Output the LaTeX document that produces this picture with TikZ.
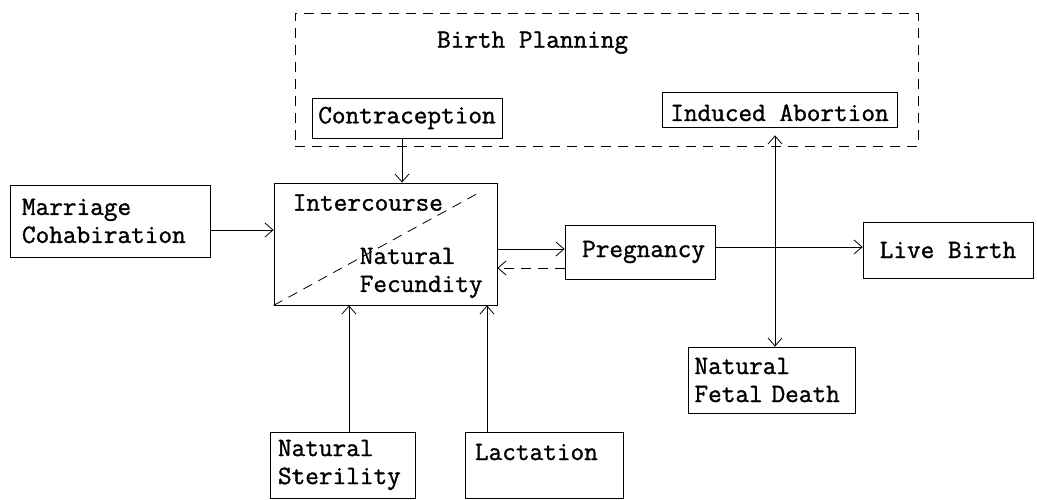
\documentclass[tikz,border=0pt]{standalone}
\usepackage{fontspec}
\setmonofont{Latin Modern Mono}[FakeBold=1.2]
\usepackage{tikz}
\usetikzlibrary{arrows.meta,positioning,calc}
\newcommand{\typefont}{\fontsize{26.5}{28}\selectfont\ttfamily}

\begin{document}
\begin{tikzpicture}[x=1pt,y=-1pt,
    box/.style={draw,line width=0.8pt,inner sep=0pt,font=\typefont},
    txt/.style={inner sep=0pt,font=\typefont,align=left},
    arr/.style={line width=0.8pt,-{Straight Barb[length=8pt,width=14pt]}},
    dash line/.style={line width=0.8pt,dash pattern=on 10pt off 7pt}]
  \useasboundingbox (0,0) rectangle (1037,500);

  % birth planning region
  \node[draw,dash line,minimum width=623pt,minimum height=133pt,inner sep=0pt] (plan) at (606.5,79.5) {};
  \node[txt] (plantitle) at ([xshift=238pt,yshift=-30pt]plan.north west) {Birth Planning};
  \node[box,minimum width=190pt,minimum height=40pt] (contra) at (407,118) {Contraception};
  \node[box,minimum width=235pt,minimum height=35pt,text height=29pt,text depth=6pt] (abort) at (779.5,109.5) {Induced Abortion};

  % main chain
  \node[box,minimum width=200pt,minimum height=72pt,text width=176pt,align=left] (marriage) at (110,221) {Marriage\\Cohabiration};
  \node[box,minimum width=223pt,minimum height=122pt] (core) at (385.5,244) {};
  \node[txt,anchor=west] (inter) at ([xshift=19pt,yshift=-20pt]core.north west) {Intercourse};
  \node[txt,anchor=west] (fecund) at ([xshift=86pt,yshift=32.5pt]core.south west) {Natural\\Fecundity};
  \draw[dash line,shorten >=22pt] (core.south west) -- (core.north east);
  \node[box,minimum width=150pt,minimum height=54pt,text width=130pt,align=right] (preg) at (640,252) {Pregnancy};
  \node[box,minimum width=170pt,minimum height=56pt] (live) at (948,250) {Live Birth};
  \node[box,minimum width=167pt,minimum height=66pt,text width=154pt,align=left] (fetal) at (771.5,380) {Natural\\Fetal Death};

  % bottom factors
  \node[box,minimum width=145pt,minimum height=66pt,text width=129pt,align=left] (steril) at (342.5,465) {Natural\\Sterility};
  \node[box,minimum width=158pt,minimum height=66pt,text width=138pt,align=left,text height=28pt,text depth=38pt] (lact) at (544,465) {Lactation};

  % connectors
  \draw[arr] ([yshift=-9pt]marriage.east) coordinate (m1) -- (m1 -| core.west);
  \draw[arr] ([xshift=-5pt]contra.south) coordinate (c1) -- (c1 |- core.north);
  \draw[arr] ([yshift=-5pt]core.east) coordinate (r1) -- (r1 -| preg.west);
  \draw[arr,dash pattern=on 10pt off 7pt] ([yshift=-16pt]preg.west) coordinate (r2) -- (r2 -| core.east);
  \draw[arr] ([yshift=5pt]preg.east) coordinate (p1) -- (p1 -| live.west);
  \draw[line width=0.8pt,{Straight Barb[length=8pt,width=14pt]}-{Straight Barb[length=8pt,width=14pt]}]
    ([xshift=-4.5pt,yshift=-8pt]abort.south) coordinate (a1) -- (a1 |- fetal.north);
  \draw[arr] ([xshift=6.5pt]steril.north) coordinate (s1) -- (s1 |- core.south);
  \draw[arr] ([xshift=-57pt]lact.north) coordinate (l1) -- (l1 |- core.south);
\end{tikzpicture}
\end{document}
